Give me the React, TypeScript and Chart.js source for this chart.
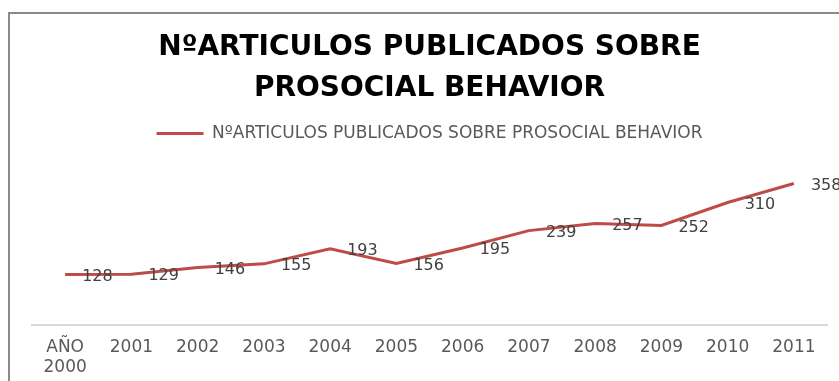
import React, { useEffect, useRef } from "react";
import { Chart, registerables } from "chart.js";

Chart.register(...registerables);

const TITLE_LINES = ["NºARTICULOS PUBLICADOS SOBRE", "PROSOCIAL BEHAVIOR"];
const SERIES_NAME = "NºARTICULOS PUBLICADOS SOBRE PROSOCIAL BEHAVIOR";
const YEAR_LABELS: (string | string[])[] = [
  ["AÑO", "2000"],
  "2001",
  "2002",
  "2003",
  "2004",
  "2005",
  "2006",
  "2007",
  "2008",
  "2009",
  "2010",
  "2011",
];
const ARTICLE_COUNTS = [128, 129, 146, 155, 193, 156, 195, 239, 257, 252, 310, 358];
const Y_MAX = 438;

const FONT = "'DejaVu Sans', sans-serif";

const framePlugin = {
  id: "frame",
  beforeDraw(chart: any) {
    const { ctx, width, height } = chart;
    ctx.save();
    ctx.fillStyle = "#ffffff";
    ctx.fillRect(0, 0, width, height);
    ctx.strokeStyle = "#8a8a8a";
    ctx.lineWidth = 2;
    ctx.beginPath();
    ctx.moveTo(9, height);
    ctx.lineTo(9, 13);
    ctx.lineTo(width, 13);
    ctx.stroke();
    ctx.restore();
  },
};

const valueLabelPlugin = {
  id: "valueLabels",
  afterDatasetsDraw(chart: any) {
    const { ctx } = chart;
    const meta = chart.getDatasetMeta(0);
    const data = chart.data.datasets[0].data;
    ctx.save();
    ctx.font = `16px ${FONT}`;
    ctx.fillStyle = "#404040";
    ctx.textAlign = "left";
    ctx.textBaseline = "middle";
    meta.data.forEach((pt: any, i: number) => {
      ctx.fillText(String(data[i]), pt.x + 17, pt.y + 2);
    });
    ctx.restore();
  },
};

export default function App() {
  const canvasRef = useRef<HTMLCanvasElement | null>(null);

  useEffect(() => {
    if (!canvasRef.current) return;
    const chart = new Chart(canvasRef.current, {
      type: "line",
      data: {
        labels: YEAR_LABELS,
        datasets: [
          {
            label: SERIES_NAME,
            data: ARTICLE_COUNTS,
            borderColor: "#be4b48",
            backgroundColor: "#be4b48",
            borderWidth: 3,
            pointRadius: 0,
            tension: 0,
          },
        ],
      },
      options: {
        animation: false,
        responsive: false,
        maintainAspectRatio: false,
        layout: { padding: { left: 32, right: 12, top: 17, bottom: -9 } },
        plugins: {
          title: {
            display: true,
            text: TITLE_LINES,
            color: "#000000",
            font: { family: FONT, size: 28, weight: "bold", lineHeight: 1.48 },
            padding: { top: 10, bottom: 5 },
          },
          legend: {
            display: true,
            labels: {
              color: "#595959",
              font: { family: FONT, size: 17 },
              boxWidth: 47,
              boxHeight: 3,
              padding: 10,
              generateLabels(chart: any) {
                const items = Chart.defaults.plugins.legend.labels.generateLabels(chart);
                return items.map((it: any) => ({ ...it, lineWidth: 0 }));
              },
            },
          },
          tooltip: { enabled: false },
        },
        scales: {
          x: {
            offset: true,
            grid: { display: false, drawTicks: false },
            border: { display: true, color: "#d9d9d9", width: 2 },
            ticks: {
              color: "#595959",
              font: { family: FONT, size: 17, lineHeight: 1.2 },
              padding: 12,
              maxRotation: 0,
              autoSkip: false,
            },
          },
          y: {
            display: false,
            min: 0,
            max: Y_MAX,
          },
        },
      },
      plugins: [framePlugin, valueLabelPlugin],
    });
    return () => chart.destroy();
  }, []);

  return (
    <div style={{ position: "fixed", left: 0, top: 0, width: 839, height: 381, background: "#fff" }}>
      <canvas ref={canvasRef} width={839} height={381} style={{ display: "block" }} />
    </div>
  );
}
